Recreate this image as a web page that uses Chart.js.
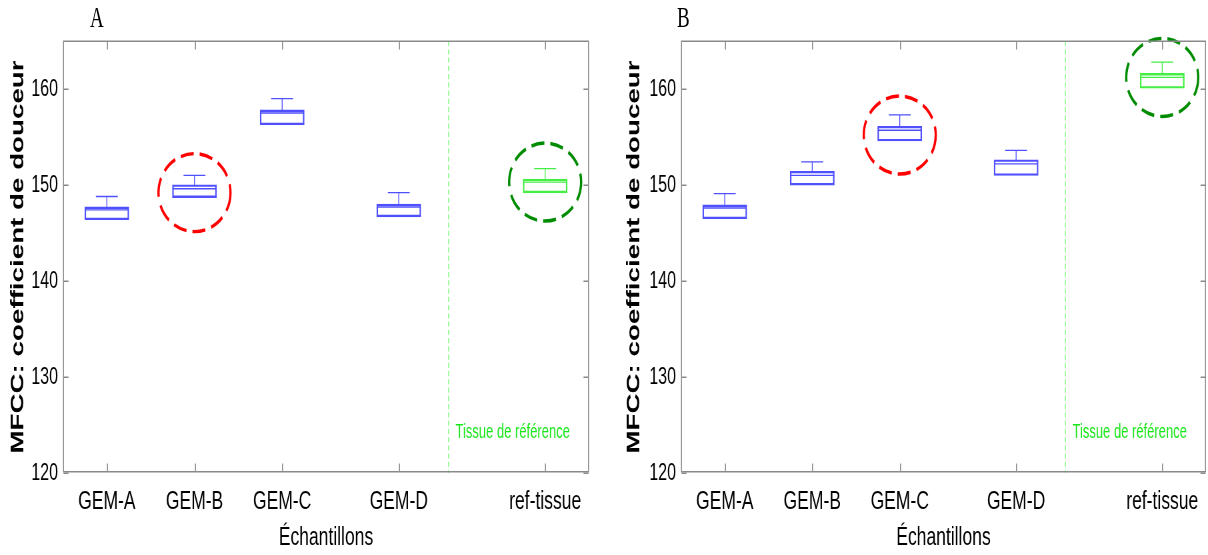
<!DOCTYPE html>
<html>
<head>
<meta charset="utf-8">
<script src="https://cdn.jsdelivr.net/npm/chart.js@4.4.1/dist/chart.umd.min.js"></script>
<style>
  html, body { margin: 0; padding: 0; background: #fff; overflow: hidden; }
  /* the original figure is stretched vertically, text looks condensed */
  #fig { position: absolute; left: 0; top: 0; width: 1208px; height: 370px; transform: scaleY(1.5); transform-origin: 0 0; }
  .panel { position: absolute; top: 0; height: 370px; }
  .tag { position: absolute; top: 4px; font: 19px/16px "Liberation Serif", "Times New Roman", serif; color: #000; }
</style>
</head>
<body>
<div id="fig">
  <div class="panel" style="left:0;width:600px"><canvas id="chartA"></canvas></div>
  <div class="panel" style="left:616px;width:592px"><canvas id="chartB"></canvas></div>
  <div class="tag" style="left:90px">A</div>
  <div class="tag" style="left:677px">B</div>
</div>
<script>
// Données
const categories = ['GEM-A', 'GEM-B', 'GEM-C', 'GEM-D', 'ref-tissue'];
const positions = [1, 2, 3, 4.33, 6];
const yTicks = [120, 130, 140, 150, 160];
const refSeparator = 4.89;
const refLabel = 'Tissue de référence';
const refLabelY = 124.2;

// Panneau A
const aMax = [148.8, 151.0, 159.0, 149.2, 151.7];
const aQ3  = [147.7, 150.0, 157.8, 148.0, 150.6];
const aMed = [147.4, 149.6, 157.5, 147.7, 150.3];
const aQ1  = [146.4, 148.7, 156.3, 146.7, 149.2];
const aCircles = [{ index: 1, y: 149.2 }, { index: 4, y: 150.3 }];

// Panneau B
const bMax = [149.1, 152.4, 157.3, 153.6, 162.8];
const bQ3  = [147.9, 151.4, 156.1, 152.6, 161.6];
const bMed = [147.6, 151.0, 155.7, 152.2, 161.2];
const bQ1  = [146.5, 150.0, 154.6, 151.0, 160.1];
const bCircles = [{ index: 2, y: 155.2 }, { index: 4, y: 161.2 }];

const FONT = '"Liberation Sans", Arial, sans-serif';
const BLUE = '#5050ff';
const LIGHT_GREEN = '#44ee44';
const AXIS = '#8a8a8a';

const colorFor = i => categories[i] === 'ref-tissue' ? LIGHT_GREEN : BLUE;

const figPlugin = {
  id: 'fig',
  beforeDatasetsDraw(chart) {
    const { ctx, chartArea: a, scales: { x, y } } = chart;
    const sx = Math.round(x.getPixelForValue(refSeparator)) + 0.5;
    ctx.save();
    ctx.strokeStyle = '#8cff8c';
    ctx.lineWidth = 1;
    ctx.setLineDash([3.5, 2]);
    ctx.beginPath();
    ctx.moveTo(sx, a.top);
    ctx.lineTo(sx, a.bottom);
    ctx.stroke();
    ctx.setLineDash([]);
    ctx.fillStyle = '#19e619';
    ctx.font = '13px ' + FONT;
    ctx.textBaseline = 'middle';
    ctx.fillText(refLabel, sx + 7, y.getPixelForValue(refLabelY));
    ctx.restore();
  },
  afterDraw(chart, args, opts) {
    const { ctx, chartArea: a, scales: { x, y } } = chart;
    ctx.save();
    // cercles en pointillés
    ctx.lineWidth = 2.3;
    ctx.setLineDash([13, 6]);
    (opts.circles || []).forEach(c => {
      ctx.strokeStyle = categories[c.index] === 'ref-tissue' ? '#008c00' : '#ff0000';
      ctx.beginPath();
      ctx.ellipse(x.getPixelForValue(positions[c.index]), y.getPixelForValue(c.y), 36, 26, 0, 0, Math.PI * 2);
      ctx.stroke();
    });
    ctx.setLineDash([]);
    // cadre et graduations (style MATLAB)
    ctx.strokeStyle = AXIS;
    ctx.lineWidth = 1;
    const L = Math.round(a.left) + 0.5, R = Math.round(a.right) - 0.5;
    const T = Math.round(a.top) + 0.5, B = Math.round(a.bottom) - 0.5;
    ctx.strokeRect(L, T, R - L, B - T);
    ctx.beginPath();
    positions.forEach(p => {
      const px = Math.round(x.getPixelForValue(p)) + 0.5;
      ctx.moveTo(px, B); ctx.lineTo(px, B - 5.5);
      ctx.moveTo(px, T); ctx.lineTo(px, T + 5.5);
    });
    yTicks.forEach(v => {
      const py = Math.round(y.getPixelForValue(v)) + 0.5;
      ctx.moveTo(L, py); ctx.lineTo(L + 5, py);
      ctx.moveTo(R, py); ctx.lineTo(R - 5, py);
    });
    ctx.stroke();
    ctx.restore();
  }
};

function lineSet(data, color) {
  return {
    type: 'line', data, borderColor: color, borderWidth: 0.9,
    pointRadius: 0, fill: false, tension: 0, spanGaps: false
  };
}

function makePanel(id, q1, med, q3, max, circles, width, plotLeft, plotRight) {
  const canvas = document.getElementById(id);
  canvas.width = width;
  canvas.height = 370;

  const datasets = [{
    type: 'bar',
    data: positions.map((p, i) => ({ x: p, y: [q1[i], q3[i]] })),
    backgroundColor: 'rgba(0,0,0,0)',
    borderColor: positions.map((p, i) => colorFor(i)),
    borderWidth: 0.9,
    borderSkipped: false,
    barThickness: 44,
    grouped: false
  }];

  positions.forEach((p, i) => {
    datasets.push(lineSet([
      { x: p, y: q3[i] }, { x: p, y: max[i] }, { x: p, y: null },
      { x: p - 0.125, y: max[i] }, { x: p + 0.125, y: max[i] }
    ], colorFor(i)));
    datasets.push(lineSet([{ x: p - 0.25, y: med[i] }, { x: p + 0.25, y: med[i] }], colorFor(i)));
  });

  return new Chart(canvas, {
    type: 'bar',
    data: { datasets },
    options: {
      responsive: false,
      animation: false,
      devicePixelRatio: 1.5,
      events: [],
      layout: { padding: { left: 0, right: width - plotRight, top: 27.3, bottom: 0 } },
      plugins: {
        legend: { display: false },
        tooltip: { enabled: false },
        fig: { circles }
      },
      scales: {
        x: {
          type: 'linear', min: 0.5, max: 6.5, offset: false,
          afterBuildTicks: s => { s.ticks = positions.map(v => ({ value: v })); },
          afterFit: s => { s.height = 54.7; },
          grid: { display: false, drawTicks: false },
          border: { display: false },
          ticks: {
            autoSkip: false, maxRotation: 0, padding: 9, color: '#000',
            font: { size: 17.5, family: FONT },
            callback: (v, i) => categories[i]
          },
          title: {
            display: true, text: 'Échantillons', color: '#000',
            font: { size: 17.5, family: FONT }, padding: { top: 0, bottom: 1 }
          }
        },
        y: {
          type: 'linear', min: 120, max: 165,
          afterBuildTicks: s => { s.ticks = yTicks.map(v => ({ value: v })); },
          afterFit: s => { s.width = plotLeft; },
          grid: { display: false, drawTicks: false },
          border: { display: false },
          ticks: { padding: 5, color: '#000', font: { size: 16, family: FONT } },
          title: {
            display: true, text: 'MFCC: coefficient de douceur', color: '#000',
            font: { size: 18.5, weight: 'bold', family: FONT }, padding: { top: 7, bottom: 0 }
          }
        }
      }
    },
    plugins: [figPlugin]
  });
}

window.addEventListener('DOMContentLoaded', () => {
  makePanel('chartA', aQ1, aMed, aQ3, aMax, aCircles, 600, 63, 589);
  makePanel('chartB', bQ1, bMed, bQ3, bMax, bCircles, 592, 65, 590);
});
</script>
</body>
</html>
